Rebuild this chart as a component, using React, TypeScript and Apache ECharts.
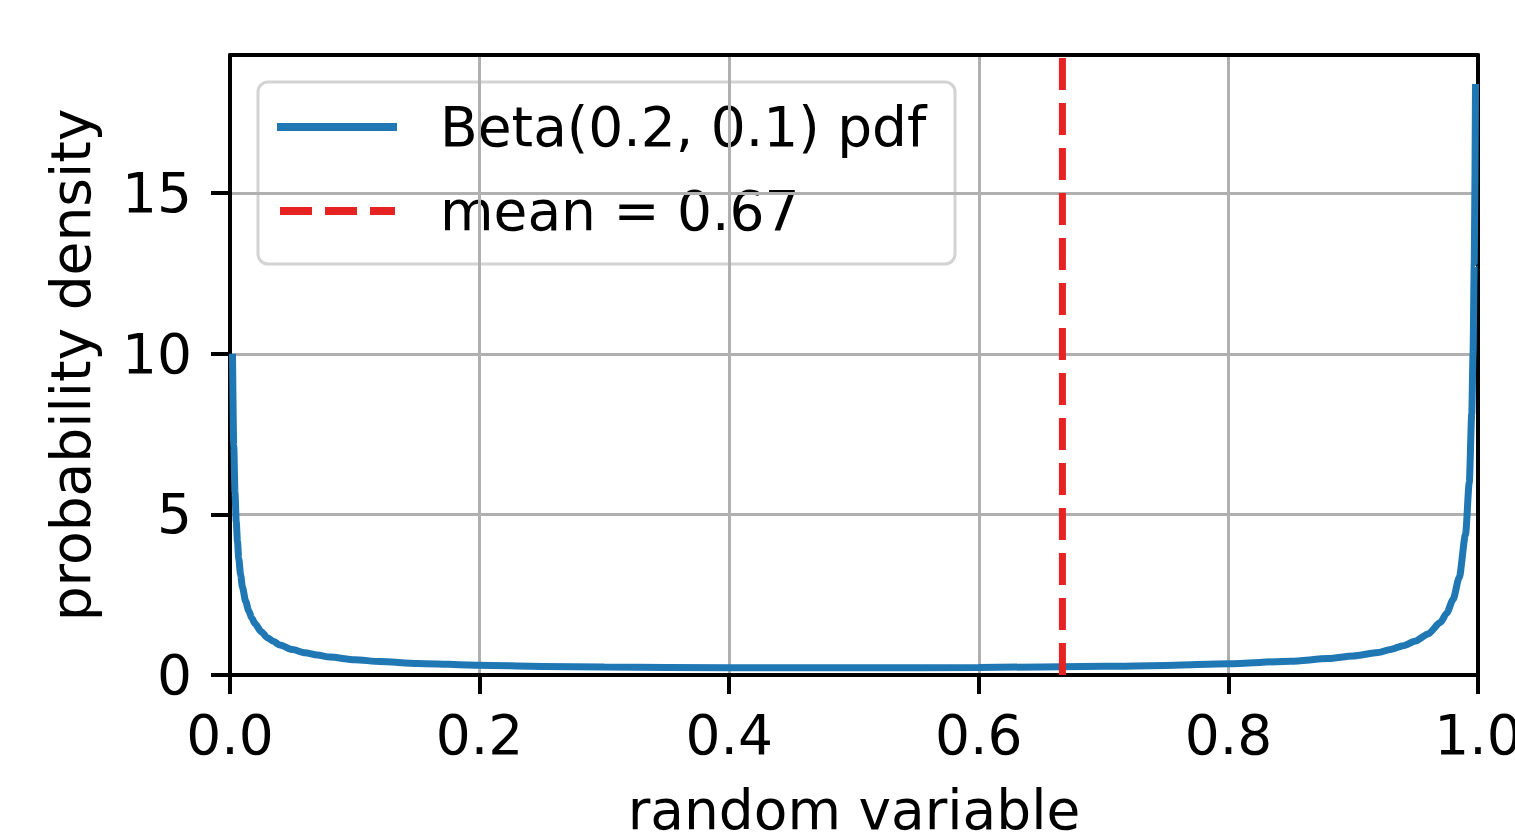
import React, { useEffect, useRef } from "react";
import * as echarts from "echarts";

const xValues = [0.002, 0.003, 0.004, 0.005, 0.006, 0.007, 0.0085, 0.01, 0.0125, 0.015, 0.0175, 0.02, 0.025, 0.03, 0.035, 0.04, 0.05, 0.06, 0.07, 0.08, 0.1, 0.12, 0.15, 0.2, 0.25, 0.3, 0.4, 0.5, 0.6, 0.7, 0.75, 0.8, 0.85, 0.88, 0.9, 0.92, 0.93, 0.94, 0.95, 0.96, 0.97, 0.975, 0.98, 0.985, 0.99, 0.993, 0.995, 0.996, 0.997, 0.998];
const pdfValues = [10.0, 7.14, 5.67, 4.77, 4.15, 3.63, 3.12, 2.73, 2.3, 2.0, 1.77, 1.6, 1.35, 1.16, 1.04, 0.93, 0.79, 0.69, 0.62, 0.557, 0.475, 0.42, 0.361, 0.303, 0.268, 0.247, 0.226, 0.222, 0.235, 0.269, 0.299, 0.349, 0.43, 0.51, 0.592, 0.7, 0.795, 0.91, 1.06, 1.28, 1.64, 1.93, 2.35, 3.04, 4.37, 5.99, 8.13, 9.95, 12.8, 18.4];
const meanValue = 0.667;
const yTickLabels = [0, 5, 10, 15];
const xTickLabels = ["0.0", "0.2", "0.4", "0.6", "0.8", "1.0"];
const seriesNames = ["Beta(0.2, 0.1) pdf", "mean = 0.67"];

const FONT = "DejaVu Sans";
const BLUE = "#1f77b4";
const RED = "#e62222";
const YMAX = 19.3;

export default function App() {
  const ref = useRef<HTMLDivElement>(null);
  useEffect(() => {
    if (!ref.current) return;
    const chart = echarts.init(ref.current, null, { renderer: "svg" });
    const pdfData = xValues.map((x, i) => [x, pdfValues[i]]);
    const meanData = [[meanValue, 0], [meanValue, YMAX]];
    const axisLine = { show: true, onZero: false, lineStyle: { color: "#000", width: 4 } };
    chart.setOption({
      animation: false,
      backgroundColor: "#fff",
      textStyle: { fontFamily: FONT },
      grid: { left: 230, top: 55, right: 37, bottom: 160, containLabel: false, outerBoundsMode: "none" },
      xAxis: [
        {
          type: "value",
          min: 0,
          max: 1,
          interval: 0.2,
          name: "random variable",
          nameLocation: "middle",
          nameGap: 107,
          nameTextStyle: { fontSize: 55, color: "#000", fontFamily: FONT },
          axisLine,
          axisTick: { show: true, length: 19, lineStyle: { color: "#000", width: 4 } },
          axisLabel: {
            fontSize: 55,
            color: "#000",
            fontFamily: FONT,
            margin: 32,
            formatter: (v: number) => xTickLabels[Math.round(v / 0.2)] ?? "",
          },
          splitLine: { show: true, lineStyle: { color: "#b0b0b0", width: 3 } },
        },
        {
          type: "value",
          position: "top",
          min: 0,
          max: 1,
          axisLine,
          axisTick: { show: false },
          axisLabel: { show: false },
          splitLine: { show: false },
        },
      ],
      yAxis: [
        {
          type: "value",
          min: 0,
          max: YMAX,
          interval: 5,
          name: "probability density",
          nameLocation: "middle",
          nameGap: 132,
          nameRotate: 90,
          nameTextStyle: { fontSize: 55, color: "#000", fontFamily: FONT },
          axisLine,
          axisTick: { show: true, length: 19, lineStyle: { color: "#000", width: 4 }, customValues: yTickLabels },
          axisLabel: { fontSize: 55, color: "#000", fontFamily: FONT, margin: 38, customValues: yTickLabels },
          splitLine: { show: true, lineStyle: { color: "#b0b0b0", width: 3 } },
        },
        {
          type: "value",
          position: "right",
          min: 0,
          max: YMAX,
          axisLine,
          axisTick: { show: false },
          axisLabel: { show: false },
          splitLine: { show: false },
        },
      ],
      series: [
        {
          name: seriesNames[0],
          type: "line",
          data: pdfData,
          showSymbol: false,
          symbol: "none",
          smooth: 0.25,
          smoothMonotone: "x",
          lineStyle: { color: BLUE, width: 7 },
          z: 3,
        },
        {
          name: seriesNames[1],
          type: "line",
          data: meanData,
          showSymbol: false,
          symbol: "none",
          lineStyle: { color: RED, width: 7, type: [32, 13] },
          z: 4,
        },
      ],
      graphic: [
        {
          type: "group",
          z: 100,
          children: [
            {
              type: "rect",
              shape: { x: 258, y: 82, width: 697, height: 182, r: 10 },
              style: { fill: "rgba(255,255,255,0.8)", stroke: "#d3d3d3", lineWidth: 3 },
            },
            {
              type: "line",
              shape: { x1: 277, y1: 127, x2: 397, y2: 127 },
              style: { stroke: BLUE, lineWidth: 8 },
            },
            {
              type: "line",
              shape: { x1: 280, y1: 211, x2: 395, y2: 211 },
              style: { stroke: RED, lineWidth: 8, lineDash: [32, 13] },
            },
            {
              type: "text",
              x: 440,
              y: 127,
              style: { text: seriesNames[0], fontSize: 55, fontFamily: FONT, fill: "#000", verticalAlign: "middle", align: "left" },
            },
            {
              type: "text",
              x: 440,
              y: 211,
              style: { text: seriesNames[1], fontSize: 55, fontFamily: FONT, fill: "#000", verticalAlign: "middle", align: "left" },
            },
          ],
        },
      ],
    });
    return () => chart.dispose();
  }, []);
  return (
    <div
      ref={ref}
      style={{ position: "fixed", left: 0, top: 0, width: 1515, height: 835, background: "#fff" }}
    />
  );
}
